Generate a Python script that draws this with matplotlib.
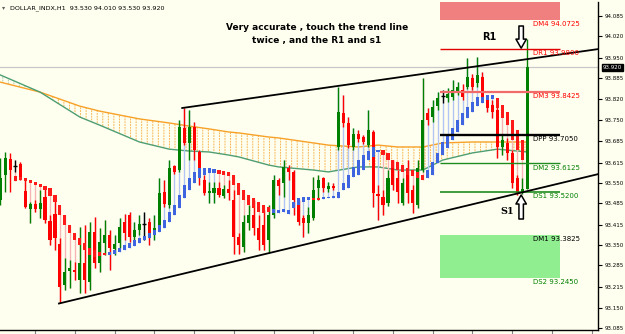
import matplotlib
matplotlib.use("Agg")
import matplotlib.pyplot as plt
import matplotlib.transforms as mtransforms
import numpy as np

# ---------------- data ----------------
opens = [93.495, 93.575, 93.626, 93.604, 93.610, 93.524, 93.466, 93.482, 93.466, 93.505,
         93.428, 93.450, 93.354, 93.223, 93.267, 93.271, 93.239, 93.293, 93.232, 93.392,
         93.293, 93.357, 93.383, 93.338, 93.357, 93.425, 93.447, 93.376, 93.399, 93.418,
         93.425, 93.383, 93.408, 93.521, 93.479, 93.604, 93.591, 93.726, 93.678, 93.729,
         93.649, 93.559, 93.517, 93.517, 93.533, 93.508, 93.530, 93.495, 93.376, 93.344,
         93.421, 93.447, 93.405, 93.415, 93.367, 93.447, 93.559, 93.550, 93.598, 93.585,
         93.479, 93.437, 93.421, 93.437, 93.533, 93.566, 93.530, 93.540, 93.665, 93.774,
         93.742, 93.665, 93.707, 93.697, 93.671, 93.713, 93.514, 93.505, 93.485, 93.607,
         93.566, 93.485, 93.582, 93.527, 93.479, 93.591, 93.774, 93.761, 93.796, 93.828,
         93.822, 93.825, 93.841, 93.848, 93.857, 93.886, 93.870, 93.889, 93.816, 93.799,
         93.783, 93.665, 93.678, 93.646, 93.566, 93.521, 93.530]
closes = [93.566, 93.630, 93.591, 93.604, 93.566, 93.473, 93.482, 93.466, 93.485, 93.431,
          93.367, 93.373, 93.216, 93.264, 93.277, 93.264, 93.293, 93.239, 93.392, 93.293,
          93.360, 93.383, 93.341, 93.354, 93.408, 93.389, 93.376, 93.399, 93.418, 93.418,
          93.383, 93.405, 93.517, 93.482, 93.598, 93.585, 93.729, 93.678, 93.729, 93.655,
          93.566, 93.517, 93.524, 93.533, 93.511, 93.530, 93.517, 93.376, 93.351, 93.425,
          93.447, 93.405, 93.367, 93.351, 93.447, 93.559, 93.540, 93.601, 93.585, 93.495,
          93.425, 93.421, 93.447, 93.527, 93.559, 93.533, 93.540, 93.533, 93.777, 93.742,
          93.671, 93.707, 93.691, 93.681, 93.719, 93.517, 93.508, 93.479, 93.566, 93.543,
          93.521, 93.550, 93.517, 93.485, 93.598, 93.751, 93.751, 93.793, 93.822, 93.828,
          93.835, 93.848, 93.857, 93.825, 93.889, 93.857, 93.896, 93.825, 93.790, 93.777,
          93.665, 93.687, 93.646, 93.550, 93.517, 93.530, 93.920]
highs = [93.630, 93.649, 93.646, 93.623, 93.617, 93.559, 93.489, 93.495, 93.527, 93.537,
         93.447, 93.495, 93.373, 93.309, 93.303, 93.296, 93.408, 93.415, 93.425, 93.441,
         93.405, 93.431, 93.399, 93.383, 93.437, 93.450, 93.457, 93.425, 93.447, 93.457,
         93.437, 93.447, 93.566, 93.559, 93.623, 93.607, 93.751, 93.790, 93.783, 93.745,
         93.655, 93.575, 93.553, 93.553, 93.553, 93.543, 93.559, 93.527, 93.389, 93.447,
         93.479, 93.495, 93.447, 93.463, 93.479, 93.575, 93.566, 93.623, 93.607, 93.591,
         93.495, 93.447, 93.473, 93.569, 93.575, 93.569, 93.553, 93.550, 93.857, 93.832,
         93.761, 93.726, 93.719, 93.703, 93.783, 93.719, 93.543, 93.527, 93.591, 93.623,
         93.591, 93.566, 93.623, 93.543, 93.623, 93.886, 93.790, 93.816, 93.841, 93.848,
         93.854, 93.880, 93.873, 93.867, 93.950, 93.899, 93.953, 93.905, 93.828, 93.816,
         93.822, 93.703, 93.694, 93.655, 93.575, 93.566, 94.010]
lows = [93.479, 93.521, 93.521, 93.585, 93.559, 93.469, 93.421, 93.457, 93.437, 93.421,
        93.351, 93.335, 93.165, 93.207, 93.213, 93.239, 93.197, 93.197, 93.207, 93.277,
        93.264, 93.319, 93.271, 93.319, 93.341, 93.367, 93.360, 93.351, 93.383, 93.367,
        93.351, 93.367, 93.399, 93.473, 93.469, 93.578, 93.585, 93.671, 93.623, 93.623,
        93.543, 93.511, 93.485, 93.485, 93.505, 93.501, 93.495, 93.322, 93.322, 93.328,
        93.399, 93.383, 93.335, 93.335, 93.325, 93.437, 93.511, 93.505, 93.559, 93.447,
        93.415, 93.376, 93.389, 93.431, 93.495, 93.521, 93.521, 93.527, 93.655, 93.729,
        93.662, 93.655, 93.681, 93.674, 93.665, 93.473, 93.431, 93.447, 93.476, 93.527,
        93.485, 93.479, 93.485, 93.453, 93.469, 93.585, 93.735, 93.745, 93.783, 93.806,
        93.809, 93.816, 93.832, 93.816, 93.851, 93.848, 93.857, 93.816, 93.777, 93.758,
        93.630, 93.639, 93.623, 93.533, 93.511, 93.514, 93.530]

# smoothed (Heiken-Ashi style) overlay, bars 3..105
ha_first = 3
ha_open = [93.572, 93.569, 93.566, 93.559, 93.553, 93.546, 93.540, 93.533, 93.511, 93.479,
           93.447, 93.415, 93.389, 93.373, 93.357, 93.341, 93.335, 93.328, 93.325, 93.319,
           93.322, 93.328, 93.335, 93.341, 93.348, 93.357, 93.367, 93.373, 93.383, 93.392,
           93.405, 93.425, 93.447, 93.469, 93.501, 93.527, 93.550, 93.566, 93.575, 93.582,
           93.582, 93.591, 93.588, 93.585, 93.575, 93.550, 93.527, 93.511, 93.501, 93.489,
           93.479, 93.473, 93.453, 93.453, 93.457, 93.450, 93.469, 93.479, 93.489, 93.495,
           93.501, 93.501, 93.498, 93.501, 93.501, 93.501, 93.527, 93.533, 93.569, 93.575,
           93.591, 93.623, 93.633, 93.649, 93.655, 93.646, 93.623, 93.617, 93.607, 93.598,
           93.591, 93.585, 93.575, 93.566, 93.575, 93.614, 93.639, 93.662, 93.687, 93.713,
           93.735, 93.758, 93.777, 93.796, 93.806, 93.816, 93.819, 93.822, 93.799, 93.777,
           93.751, 93.719, 93.687]
ha_close = [93.556, 93.559, 93.556, 93.550, 93.543, 93.537, 93.527, 93.508, 93.489, 93.447,
            93.415, 93.389, 93.367, 93.351, 93.335, 93.319, 93.312, 93.315, 93.319, 93.328,
            93.335, 93.341, 93.351, 93.357, 93.367, 93.373, 93.380, 93.389, 93.399, 93.415,
            93.431, 93.457, 93.479, 93.511, 93.543, 93.566, 93.585, 93.598, 93.598, 93.598,
            93.594, 93.578, 93.575, 93.572, 93.543, 93.511, 93.495, 93.479, 93.469, 93.457,
            93.453, 93.457, 93.466, 93.463, 93.466, 93.463, 93.489, 93.501, 93.505, 93.505,
            93.495, 93.495, 93.505, 93.505, 93.508, 93.521, 93.550, 93.575, 93.601, 93.623,
            93.639, 93.652, 93.665, 93.655, 93.639, 93.623, 93.598, 93.591, 93.585, 93.575,
            93.572, 93.566, 93.559, 93.591, 93.617, 93.646, 93.681, 93.703, 93.726, 93.751,
            93.774, 93.793, 93.809, 93.825, 93.825, 93.832, 93.832, 93.790, 93.758, 93.735,
            93.687, 93.655, 93.623]

# moving averages (sampled)
ma_idx = [0, 8, 16, 20, 28, 34, 38, 42, 46, 48, 54, 56, 63, 66, 72, 76, 80, 85, 89, 95, 100, 106]
ma_slow = [93.873, 93.841, 93.796, 93.780, 93.755, 93.742, 93.732, 93.723, 93.713, 93.710, 93.697,
           93.694, 93.678, 93.671, 93.665, 93.671, 93.665, 93.665, 93.678, 93.681, 93.681, 93.681]
ma_fast = [93.896, 93.841, 93.761, 93.735, 93.681, 93.658, 93.652, 93.649, 93.639, 93.633, 93.607,
           93.601, 93.591, 93.585, 93.601, 93.601, 93.591, 93.591, 93.623, 93.646, 93.658, 93.649]

# daily pivot levels
piv_names = ["DM4", "DR1", "DM3", "DPP", "DM2", "DS1", "DM1", "DS2"]
piv_vals = [94.0725, 93.9800, 93.8425, 93.7050, 93.6125, 93.5200, 93.3825, 93.2450]
piv_colors = ["#FF0000", "#FF0000", "#FF0000", "#000000", "#008000", "#008000", "#000000", "#008000"]

# trend lines
tl_low_x, tl_low_y = [11.8, 120.3], [93.163, 93.578]
tl_up_x, tl_up_y = [36.6, 120.3], [93.790, 93.979]

last_price = 93.920
header = "DOLLAR_INDX,H1  93.530 94.010 93.530 93.920"
yticks = [94.085, 94.020, 93.950, 93.885, 93.820, 93.750, 93.685, 93.615,
          93.550, 93.485, 93.415, 93.350, 93.285, 93.215, 93.150, 93.085]

# ---------------- figure ----------------
BG = "#FFFFF0"
fig = plt.figure(figsize=(6.25, 3.34), dpi=100, facecolor=BG)
ax = fig.add_axes([0, 4 / 334, 598 / 625, 328 / 334])
ax.set_facecolor(BG)
ax.set_xlim(-0.06, 120.26)
ax.set_ylim(93.078, 94.130)

x = np.arange(len(opens))
o = np.array(opens); c = np.array(closes); h = np.array(highs); l = np.array(lows)

# cloud between the moving averages (dotted vertical hatch)
plt.rcParams["hatch.linewidth"] = 0.7
mi = np.array(ma_idx); ms = np.array(ma_slow); mf = np.array(ma_fast)
ax.fill_between(mi, ms, mf, where=ms >= mf, interpolate=True, facecolor="none",
                edgecolor=(0.96, 0.66, 0.20, 0.85), hatch="|||", linewidth=0, zorder=1)
ax.fill_between(mi, ms, mf, where=ms < mf, interpolate=True, facecolor="none",
                edgecolor=(0.62, 0.76, 0.60, 0.85), hatch="|||", linewidth=0, zorder=1)
# break the vertical hatch into dots with background-coloured horizontal hatch
ax.fill_between(mi, ms, mf, facecolor="none", edgecolor=BG, hatch="------",
                linewidth=0, zorder=1.2)
ax.plot(mi, ms, color="#F7A128", lw=1.0, zorder=2)
ax.plot(mi, mf, color="#4E9E72", lw=1.0, zorder=2)

# smoothed overlay wicks (faded)
hx = np.arange(ha_first, ha_first + len(ha_open))
ho = np.array(ha_open); hc = np.array(ha_close)
hh = np.maximum(h[hx], np.maximum(ho, hc)); hl = np.minimum(l[hx], np.minimum(ho, hc))
hbull = hc >= ho
ax.vlines(hx[hbull], hl[hbull], hh[hbull], color="#B3C5F2", lw=1, zorder=2.5)
ax.vlines(hx[~hbull], hl[~hbull], hh[~hbull], color="#F6B4B4", lw=1, zorder=2.5)

# main candles
bull = c > o
bear = c < o
doji = c == o
wick_col = np.where(bull, "#008000", np.where(bear, "#FF0000", "#000000"))
ax.vlines(x, l, h, colors=list(wick_col), lw=1, zorder=3)
ax.bar(x[bull], (c - o)[bull], bottom=o[bull], width=0.62, color="#008000", zorder=3.5)
ax.bar(x[bear], (o - c)[bear], bottom=c[bear], width=0.62, color="#FF0000", zorder=3.5)
ax.hlines(o[doji], x[doji] - 0.4, x[doji] + 0.4, color="#000000", lw=1, zorder=3.5)

# smoothed overlay bodies
ax.bar(hx[hbull], (hc - ho)[hbull], bottom=ho[hbull], width=0.62, color="#3E64E0", zorder=4)
ax.bar(hx[~hbull], (ho - hc)[~hbull], bottom=hc[~hbull], width=0.62, color="#FF1A1A", zorder=4)

# last price line
ax.axhline(last_price, color="#C8C8C8", lw=0.9, zorder=0.8)

# pivot zones / lines
px0, px1, plab = 88.5, 112.7, 107.2
ax.fill_between([px0, px1], piv_vals[0], 94.3, color="#F08080", lw=0, zorder=0.9)
ax.fill_between([px0, px1], piv_vals[7], piv_vals[6], color="#90EE90", lw=0, zorder=0.9)
line_style = {"DR1": ("#E00000", 1.0), "DM3": ("#F26B6B", 1.6), "DPP": ("#000000", 1.7),
              "DM2": ("#1E8C1E", 1.0), "DS1": ("#1E8C1E", 1.2)}
for name, val, col in zip(piv_names, piv_vals, piv_colors):
    if name in line_style:
        lc, lw = line_style[name]
        ax.hlines(val, px0, px1, color=lc, lw=lw, zorder=5)
    ax.text(plab, val - 0.004, f"{name} {val:.4f}", color=col, fontsize=5,
            va="top", ha="left", zorder=7)

# trend lines
ax.plot(tl_low_x, tl_low_y, color="#000000", lw=1.3, zorder=6)
ax.plot(tl_up_x, tl_up_y, color="#000000", lw=1.3, zorder=6)

# annotations
ax.text(63.7, 94.049, "Very accurate , touch the trend line", fontsize=6.5,
        fontweight="bold", ha="center", va="center", zorder=8)
ax.text(63.7, 94.005, "twice , and the R1 and s1", fontsize=6.5,
        fontweight="bold", ha="center", va="center", zorder=8)
ax.text(98.3, 94.017, "R1", fontsize=7, fontweight="bold", ha="center", va="center", zorder=8)
ax.text(101.9, 93.457, "S1", fontsize=7, fontweight="bold", ha="center", va="center",
        family="DejaVu Serif", zorder=8)
arrow_style = "simple,head_length=0.65,head_width=0.75,tail_width=0.32"
ax.annotate("", xy=(104.8, 93.982), xytext=(104.8, 94.053),
            arrowprops=dict(arrowstyle=arrow_style, fc="white", ec="black", lw=1.1,
                            shrinkA=0, shrinkB=0, mutation_scale=10), zorder=9)
ax.annotate("", xy=(104.8, 93.511), xytext=(104.8, 93.434),
            arrowprops=dict(arrowstyle=arrow_style, fc="white", ec="black", lw=1.1,
                            shrinkA=0, shrinkB=0, mutation_scale=10), zorder=9)

ax.text(0.016, 0.982, header, transform=ax.transAxes, fontsize=4.6, ha="left", va="center")
ax.text(0.004, 0.982, "\u25BE", transform=ax.transAxes, fontsize=4.5, ha="left",
        va="center", color="#606060")

# axes styling
for s in ["top", "left"]:
    ax.spines[s].set_visible(False)
ax.spines["right"].set_color("#000000")
ax.spines["bottom"].set_color("#000000")
ax.spines["right"].set_linewidth(1.0)
ax.spines["bottom"].set_linewidth(1.0)
ax.yaxis.tick_right()
ax.set_yticks(yticks)
ax.set_yticklabels([f"{v:.3f}" for v in yticks])
ax.tick_params(axis="y", labelsize=4.0, length=3, width=0.8, pad=1.5, colors="#000000")
ax.set_xticks(np.arange(7, 120, 8))
ax.set_xticklabels([])
ax.tick_params(axis="x", length=3, width=0.8, color="#808080")

trans = mtransforms.blended_transform_factory(ax.transAxes, ax.transData)
ax.text(1.008, last_price, f"{last_price:.3f}", transform=trans, fontsize=4.0,
        color="white", ha="left", va="center",
        bbox=dict(boxstyle="square,pad=0.2", fc="black", ec="black"), zorder=10,
        clip_on=False)

fig.savefig("out.png", dpi=100, facecolor=BG)
